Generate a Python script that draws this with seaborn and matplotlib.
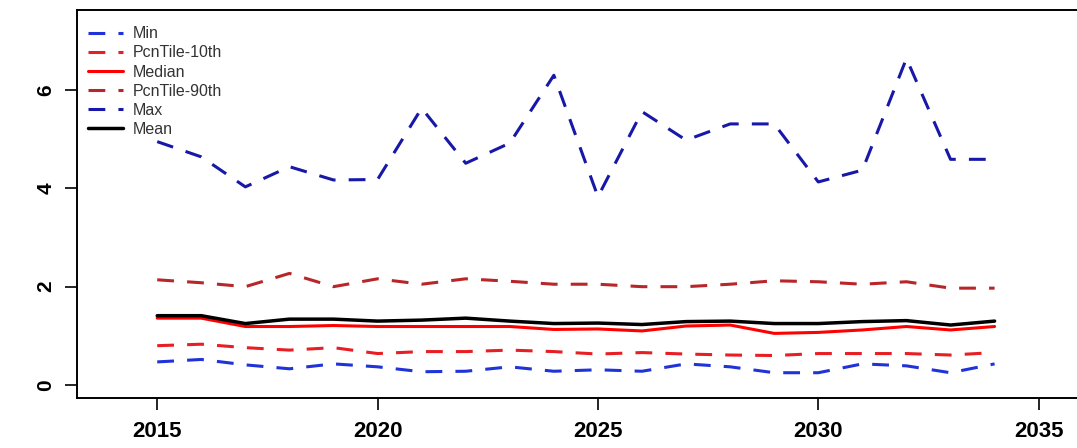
import matplotlib

matplotlib.use("Agg")
import matplotlib.pyplot as plt
import pandas as pd
import seaborn as sns

# Yearly summary statistics
years = list(range(2015, 2035))
min_vals = [0.47, 0.52, 0.41, 0.33, 0.43, 0.37, 0.27, 0.28, 0.37, 0.28,
            0.31, 0.28, 0.43, 0.37, 0.25, 0.25, 0.43, 0.39, 0.25, 0.43]
p10_vals = [0.80, 0.83, 0.76, 0.71, 0.76, 0.64, 0.68, 0.68, 0.71, 0.68,
            0.63, 0.66, 0.63, 0.61, 0.60, 0.64, 0.64, 0.64, 0.61, 0.66]
median_vals = [1.36, 1.36, 1.19, 1.19, 1.21, 1.19, 1.19, 1.19, 1.19, 1.13,
               1.14, 1.10, 1.20, 1.22, 1.05, 1.07, 1.12, 1.19, 1.12, 1.19]
p90_vals = [2.14, 2.08, 2.00, 2.27, 2.00, 2.16, 2.05, 2.16, 2.11, 2.05,
            2.05, 2.00, 2.00, 2.05, 2.12, 2.10, 2.05, 2.10, 1.97, 1.97]
max_vals = [4.95, 4.64, 4.03, 4.44, 4.17, 4.18, 5.63, 4.51, 4.92, 6.30,
            3.83, 5.56, 4.98, 5.31, 5.31, 4.13, 4.37, 6.64, 4.59, 4.59]
mean_vals = [1.41, 1.41, 1.25, 1.34, 1.34, 1.30, 1.32, 1.36, 1.30, 1.25,
             1.26, 1.23, 1.29, 1.30, 1.25, 1.25, 1.29, 1.31, 1.22, 1.30]

x_ticks = [2015, 2020, 2025, 2030, 2035]
y_ticks = [0, 2, 4, 6]

df = pd.DataFrame({
    "Year": years,
    "Min": min_vals,
    "PcnTile-10th": p10_vals,
    "Median": median_vals,
    "PcnTile-90th": p90_vals,
    "Max": max_vals,
    "Mean": mean_vals,
})

dash = (0, (5.5, 4.3))
styles = {
    "Min": dict(color="#1f33d8", linestyle=dash, linewidth=2.2),
    "PcnTile-10th": dict(color="#e81e24", linestyle=dash, linewidth=2.2),
    "Median": dict(color="#ff0000", linestyle="-", linewidth=2.2),
    "PcnTile-90th": dict(color="#b8262a", linestyle=dash, linewidth=2.2),
    "Max": dict(color="#1818a8", linestyle=dash, linewidth=2.2),
    "Mean": dict(color="black", linestyle="-", linewidth=2.5),
}

sns.set_theme(style="white")
plt.rcParams["font.family"] = ["Liberation Sans", "DejaVu Sans"]

fig = plt.figure(figsize=(10.77, 4.48), dpi=100)
ax = fig.add_axes([77 / 1077, 50 / 448, 1000 / 1077, 388 / 448])

for name, st in styles.items():
    sns.lineplot(data=df, x="Year", y=name, ax=ax, label=name, **st)

ax.set_xlim(2013.18, 2035.87)
ax.set_ylim(-0.264, 7.627)
ax.set_xticks(x_ticks)
ax.set_yticks(y_ticks)
ax.set_xlabel("")
ax.set_ylabel("")

for side in ["left", "bottom", "top"]:
    ax.spines[side].set_color("black")
    ax.spines[side].set_linewidth(1.4)
ax.spines["right"].set_visible(False)

ax.tick_params(axis="both", direction="out", length=8.6, width=1.2,
               color="black", bottom=True, left=True)
ax.tick_params(axis="x", pad=8)
ax.tick_params(axis="y", pad=7)
for lab in ax.get_xticklabels():
    lab.set_fontweight("bold")
    lab.set_fontsize(16)
    lab.set_color("black")
for lab in ax.get_yticklabels():
    lab.set_fontweight("bold")
    lab.set_fontsize(15)
    lab.set_rotation(90)
    lab.set_va("center")
    lab.set_color("black")

leg = ax.legend(loc="upper left", bbox_to_anchor=(0.011, 0.958),
                frameon=False, borderpad=0, borderaxespad=0,
                fontsize=11.5, handlelength=2.2, handletextpad=0.62,
                labelspacing=0.26)
for t in leg.get_texts():
    t.set_color("#333333")

fig.savefig("out.png", dpi=100, facecolor="white")
